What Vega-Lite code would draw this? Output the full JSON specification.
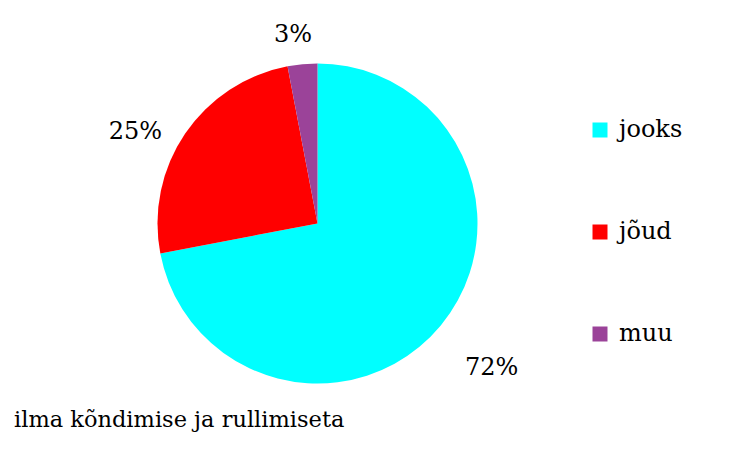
{
  "$schema": "https://vega.github.io/schema/vega-lite/v6.json",
  "width": 635,
  "height": 447,
  "autosize": {"type": "none"},
  "padding": {"left": 0, "top": 0, "right": 116, "bottom": 4},
  "background": "white",
  "config": {"view": {"stroke": null}},
  "title": {
    "text": "ilma kõndimise ja rullimiseta",
    "orient": "bottom",
    "anchor": "start",
    "font": "DejaVu Serif",
    "fontSize": 22.5,
    "fontWeight": "normal",
    "color": "black",
    "offset": -38,
    "dx": 14
  },
  "data": {
    "values": [
      {"tegevus": "jooks", "osa": 72, "silt": "72%"},
      {"tegevus": "jõud", "osa": 25, "silt": "25%"},
      {"tegevus": "muu", "osa": 3, "silt": "3%"}
    ]
  },
  "encoding": {
    "theta": {"field": "osa", "type": "quantitative", "stack": true},
    "order": {"field": "tegevus", "type": "ordinal", "sort": "ascending"},
    "color": {
      "field": "tegevus",
      "type": "nominal",
      "scale": {"domain": ["jooks", "jõud", "muu"], "range": ["#00FFFF", "#FF0000", "#9B4399"]},
      "legend": {
        "title": null,
        "orient": "none",
        "legendX": 588,
        "legendY": 118,
        "symbolType": "square",
        "symbolSize": 225,
        "symbolStrokeWidth": 0,
        "symbolOpacity": 1,
        "labelFont": "DejaVu Serif",
        "labelFontSize": 24,
        "labelColor": "black",
        "labelOffset": 7,
        "rowPadding": 78
      }
    }
  },
  "layer": [
    {"mark": {"type": "arc", "outerRadius": 160}},
    {
      "mark": {"type": "text", "radius": 226, "font": "DejaVu Serif", "fontSize": 24},
      "encoding": {
        "text": {"condition": {"test": "datum.tegevus == 'jooks'", "field": "silt"}, "value": ""},
        "color": {"value": "black"}
      }
    },
    {
      "mark": {"type": "text", "radius": 204, "thetaOffset": -0.13, "font": "DejaVu Serif", "fontSize": 24},
      "encoding": {
        "text": {"condition": {"test": "datum.tegevus == 'jõud'", "field": "silt"}, "value": ""},
        "color": {"value": "black"}
      }
    },
    {
      "mark": {"type": "text", "radius": 190, "thetaOffset": -0.035, "font": "DejaVu Serif", "fontSize": 24},
      "encoding": {
        "text": {"condition": {"test": "datum.tegevus == 'muu'", "field": "silt"}, "value": ""},
        "color": {"value": "black"}
      }
    }
  ]
}
